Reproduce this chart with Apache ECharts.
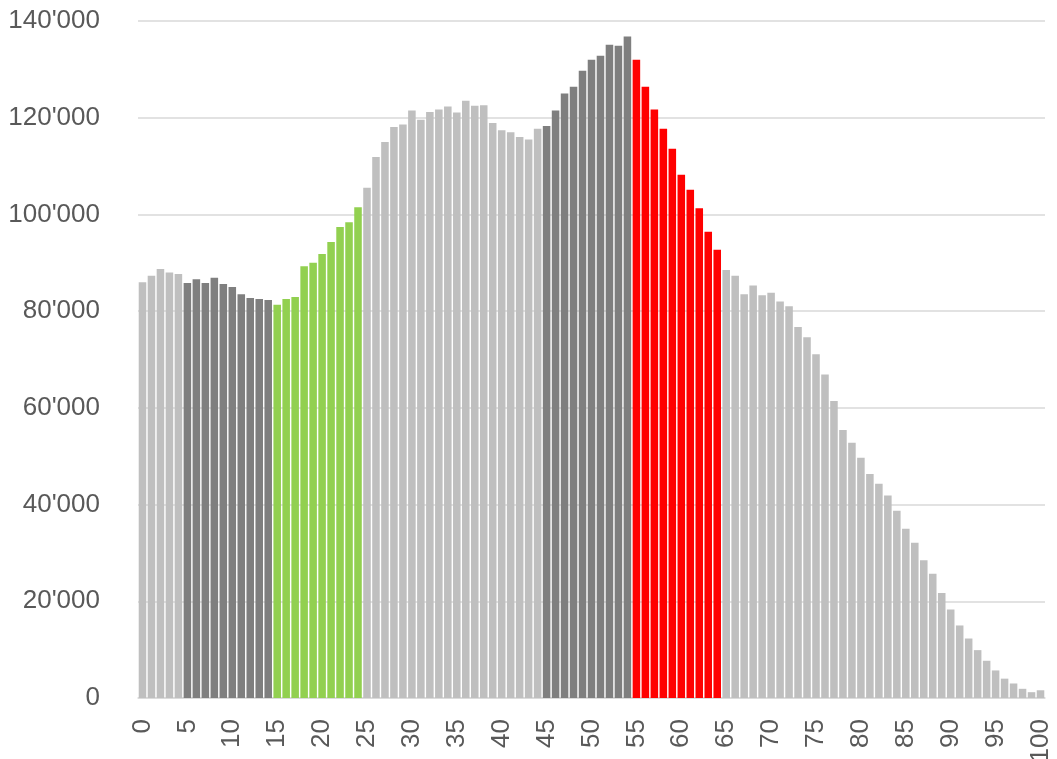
<!DOCTYPE html>
<html>
<head>
<meta charset="utf-8">
<script src="https://cdn.jsdelivr.net/npm/echarts@6/dist/echarts.min.js"></script>
<style>
	html, body { margin: 0; padding: 0; background: #fff; }
	#chart { width: 1057px; height: 759px; }
</style>
</head>
<body>
<div id="chart"></div>
<script>
// ages 0..100
const ages = [];
for (let i = 0; i <= 100; i++) ages.push(String(i));

// population per age
const population = [
	86000, 87300, 88700, 88000, 87700, 85800, 86600, 85800, 86900, 85600,
	85000, 83500, 82700, 82500, 82300, 81300, 82500, 82900, 89300, 90000,
	91800, 94300, 97400, 98400, 101500, 105500, 111900, 115000, 118100, 118600,
	121500, 119600, 121200, 121700, 122300, 121100, 123500, 122500, 122600, 118900,
	117400, 117000, 116000, 115500, 117700, 118300, 121500, 125000, 126400, 129700,
	132000, 132800, 135100, 134900, 136800, 132000, 126400, 121700, 117700, 113600,
	108200, 105100, 101300, 96400, 92700, 88500, 87300, 83500, 85300, 83300,
	83800, 82000, 81000, 76700, 74600, 71100, 66900, 61400, 55400, 52800,
	49700, 46300, 44300, 41900, 38700, 35000, 32100, 28500, 25700, 21700,
	18300, 15000, 12300, 9900, 7700, 5700, 4000, 3000, 1900, 1200,
	1600
];

// highlighted age groups [from, to]
const darkGroups = [[5, 14], [45, 54]];
const greenGroups = [[15, 24]];
const redGroups = [[55, 64]];

const colors = {
	base: '#bfbfbf',
	dark: '#7f7f7f',
	green: '#92d050',
	red: '#ff0000'
};

function inGroups(i, groups) {
	return groups.some(g => i >= g[0] && i <= g[1]);
}

function colorFor(i) {
	if (inGroups(i, redGroups)) return colors.red;
	if (inGroups(i, greenGroups)) return colors.green;
	if (inGroups(i, darkGroups)) return colors.dark;
	return colors.base;
}

function fmt(val) {
	return String(val).replace(/\B(?=(\d{3})+(?!\d))/g, "'");
}

const labelFont = "'Liberation Sans', Arial, sans-serif";

const chart = echarts.init(document.getElementById('chart'));
chart.setOption({
	animation: false,
	grid: {
		left: 138,
		right: 12,
		top: 21,
		bottom: 61,
		outerBoundsMode: 'none'
	},
	xAxis: {
		type: 'category',
		data: ages,
		axisLine: { lineStyle: { color: '#d9d9d9', width: 1.5 } },
		axisTick: { show: false },
		axisLabel: {
			interval: 4,
			rotate: 90,
			margin: 21,
			color: '#595959',
			fontSize: 26,
			fontFamily: labelFont
		}
	},
	yAxis: {
		type: 'value',
		min: 0,
		max: 140000,
		interval: 20000,
		axisLine: { show: false },
		axisTick: { show: false },
		splitLine: { lineStyle: { color: '#d9d9d9', width: 1.5 } },
		axisLabel: {
			margin: 38,
			color: '#595959',
			fontSize: 26,
			fontFamily: labelFont,
			formatter: fmt
		}
	},
	series: [
		{
			type: 'bar',
			barCategoryGap: '16%',
			data: population.map((v, i) => ({
				value: v,
				itemStyle: { color: colorFor(i) }
			}))
		}
	]
});
</script>
</body>
</html>
